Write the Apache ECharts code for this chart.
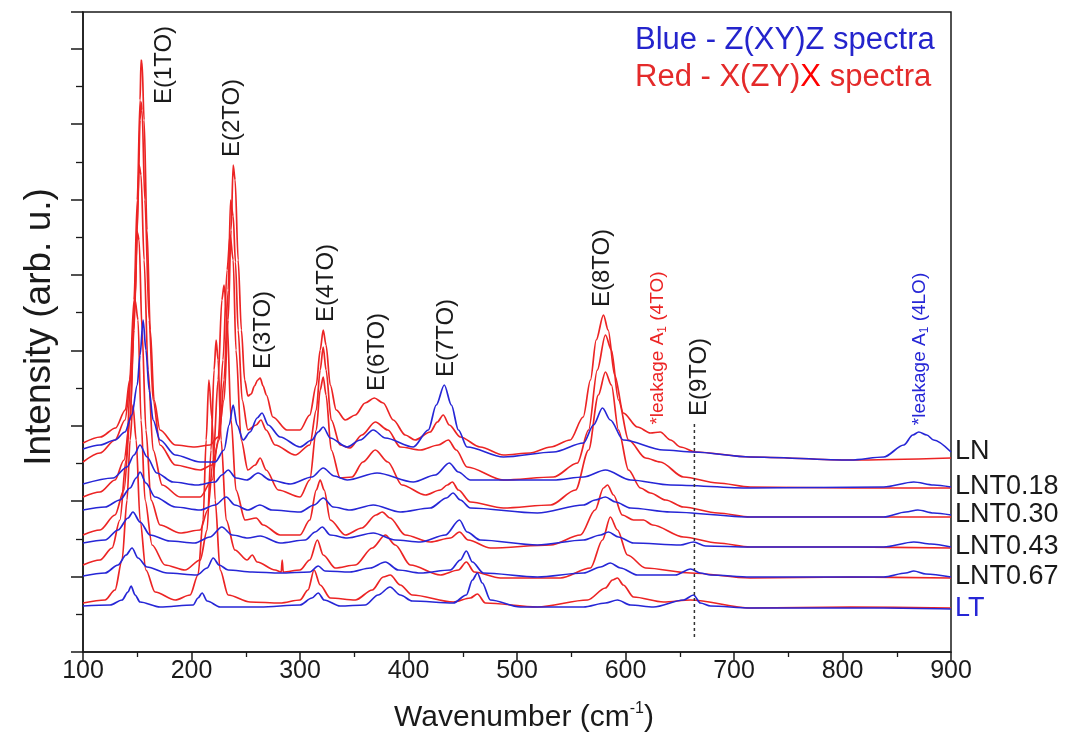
<!DOCTYPE html>
<html><head><meta charset="utf-8">
<script src="https://cdn.jsdelivr.net/npm/echarts@6/dist/echarts.min.js"></script>
<style>html,body{margin:0;padding:0;background:#fff}#c{width:1069px;height:749px}</style>
</head><body><div id="c"></div>
<script>
// ---- data: [wavenumber (cm-1), intensity (arb. u., stacked with offsets)] ----
const samples = ['LN','LNT0.18','LNT0.30','LNT0.43','LNT0.67','LT'];
const xTicks = [100,200,300,400,500,600,700,800,900];

const LN_red = [[100,209],[116,215],[130,224],[139,242],[143,272],[147,352],[150,452],[152.6,552],[153.5,592],[154.4,590],[156.3,532],[159,422],[162,322],[165.5,252],[171,222],[185,207],[203,205],[217,207],[224.5,215],[230,252],[233.8,332],[236.5,422],[238.4,487],[240.2,472],[243,392],[246,322],[249,272],[252,256],[255,258],[258,266],[261,272],[263.3,274],[266,266],[269,257],[275,235],[288,222],[300,222],[309,237],[315,267],[318.6,302],[321.4,322],[324,307],[327.9,267],[333.4,242],[341.7,232],[351,237],[360,249],[368.5,254],[376.7,249],[386,232],[397,217],[406,212],[420,220],[426.6,230],[432,237],[437.6,227],[447.8,215],[466,205],[487.5,197],[512,199],[531,205],[549,212],[561,235],[567.7,272],[573,312],[579.7,337],[584,322],[590,277],[598,239],[611,225],[623,219],[632,220],[641.5,212],[650.7,205],[664.6,200],[715,195],[807.6,192],[900,194]];
const LN_blue = [[100,203],[115.7,207],[129.5,212],[138.7,220],[145,237],[150,267],[152.6,297],[155.4,332],[158,302],[161,262],[164.6,232],[171,212],[185,197],[208,190],[221.8,190],[230,202],[234.7,227],[238.4,247],[242,227],[247.6,212],[254,220],[260.5,234],[265,239],[270.7,227],[281.7,215],[300,205],[311,212],[316.8,220],[321.4,225],[327.9,214],[343.5,205],[355.5,212],[367.5,222],[378.6,214],[404.4,205],[418.3,222],[425.6,247],[433,267],[439.5,247],[446,222],[454,205],[487.5,195],[533.6,200],[561.3,209],[570.5,227],[578.8,244],[586,232],[598,212],[635,202],[662.7,200],[715,195],[807.6,192],[838,195],[856.5,207],[864.8,217],[870.3,220],[877.7,217],[884,212],[900,200]];

const N018_red = [[100,190],[115.7,199],[129.5,212],[138.7,232],[144,272],[148,352],[150.7,452],[152.6,532],[153.5,550],[154.4,542],[157,452],[161,332],[164.6,252],[171,207],[185,187],[208,182],[219,187],[225.5,212],[230,272],[233.8,362],[236,452],[238.4,436],[240.5,390],[243,322],[246.7,252],[252,222],[259.6,227],[264,232],[268.8,222],[277,207],[295.6,197],[309,207],[315,242],[318.6,282],[321.4,305],[324,282],[328.8,232],[337,207],[346,204],[357,217],[369.4,230],[381,222],[392.4,205],[411,202],[427.5,207],[436.7,212],[444,202],[454,185],[487.5,172],[533.6,175],[555.7,189],[566,222],[574,282],[581.5,317],[587,302],[593.5,252],[602.8,212],[618.5,194],[632,190],[653.5,175],[685,169],[715,165],[807.6,164],[900,164]];
const N018_blue = [[100,168],[127.7,174],[140.6,185],[147,197],[152.6,207],[159,195],[168,179],[183,170],[205,167],[221.8,170],[228,177],[233.8,182],[241,174],[251,172],[261.4,179],[272.5,172],[291,168],[311,175],[321.4,184],[331.5,176],[343.5,172],[371,179],[404.4,170],[424.7,177],[437.6,189],[446,180],[457,172],[533.6,172],[561.3,175],[581.5,182],[604.6,172],[641.5,167],[715,164],[838,165],[865.7,170],[884,167],[900,165]];

const N030_red = [[100,155],[115.7,160],[129.5,172],[137.8,192],[143.4,232],[147,322],[150,422],[151.7,487],[153.5,477],[156.3,392],[160,282],[164.6,202],[173,167],[189.5,155],[208,155],[219,172],[224.5,212],[229,292],[232.8,382],[235.6,417],[238.4,392],[241,302],[245.8,212],[252,182],[258.7,187],[263.3,194],[268.8,182],[280,162],[300,155],[309,172],[315,222],[318.6,262],[321.4,275],[324,257],[328.8,202],[337,174],[348,175],[358,190],[369.4,202],[381,190],[394,167],[415.5,157],[429.3,162],[435.8,167],[440.4,170],[446,162],[457,150],[487.5,144],[531,147],[554,162],[566,202],[575,257],[581.5,280],[587,267],[593.5,222],[602.8,182],[613.8,164],[623,159],[637,152],[653.5,145],[685,139],[715,135],[807.6,135],[900,135]];
const N030_blue = [[100,142],[120.3,145],[134,152],[143.4,164],[149,174],[152.6,180],[158,169],[166.4,155],[185,145],[208,142],[221.8,147],[232,155],[240,147],[252,142],[263,147],[274,142],[300,140],[313,147],[321.4,154],[330.6,145],[346,142],[367.5,147],[392.4,140],[420,144],[435,154],[441,159],[447.8,152],[457,144],[518.8,139],[561.3,147],[572,152],[581.5,155],[590.8,150],[604.6,144],[641.5,140],[715,135],[838,135],[858.3,140],[869.4,142],[884,139],[900,137]];

const N043_red = [[100,117],[115.7,122],[129.5,137],[137.8,162],[143.4,232],[147,332],[150,420],[151.7,412],[154.4,322],[158,222],[162.7,152],[171,127],[189.5,119],[208,122],[215,142],[220,192],[224.5,272],[228,352],[230,367],[232.8,332],[236.5,232],[241,162],[249.4,132],[259.6,134],[266,127],[281.7,117],[300,117],[309,132],[315,162],[318.6,172],[322.3,162],[327.9,132],[341.7,117],[357,124],[370,137],[375.8,140],[383,134],[397,117],[420,110],[438.6,114],[447,120],[455,112],[475.5,104],[531,107],[558.5,117],[572,142],[579.7,164],[583.4,167],[589,157],[597,137],[607.4,132],[616.6,132],[625,127],[653.5,115],[685,109],[715,105],[807.6,105],[900,104]];
const N043_blue = [[100,109],[120.3,112],[132.3,122],[141.5,134],[146,140],[152.6,130],[161.8,117],[180,111],[203,109],[217,115],[228,125],[237.5,117],[252,114],[263.3,116],[281.7,109],[304.8,112],[314,120],[320.5,125],[327.9,117],[343.5,114],[367.5,119],[387.8,112],[411,110],[434,117],[447,132],[454,120],[466,112],[518.8,107],[561.3,112],[577,117],[584.3,120],[593.5,115],[607.4,109],[650.7,107],[662.7,110],[673.8,106],[715,105],[838,105],[865.7,110],[881.4,108],[900,105]];

const N067_red = [[100,87],[115.7,92],[126.8,104],[134,132],[139.7,192],[144.3,282],[148,352],[150.7,332],[153.5,232],[157.2,152],[163.7,107],[175.6,87],[194,82],[208,92],[214.4,122],[218,202],[220.8,282],[222.7,312],[224.5,292],[227.3,212],[232,132],[240,102],[251.3,92],[256,97],[260.5,90],[277,82],[282.7,80],[283.6,92],[284.5,80],[300,82],[309,92],[316,112],[321.4,97],[332.5,84],[351,87],[366.6,104],[378.6,117],[387.8,107],[401.7,87],[429.3,77],[446,82],[453.3,90],[460.6,80],[484.7,74],[540,74],[567.7,84],[578.8,112],[586,135],[592.6,122],[601.8,97],[618.5,84],[660,79],[715,74],[807.6,75],[900,74]];
const N067_blue = [[100,76],[120.3,79],[132.3,87],[139.7,97],[145.2,104],[150.7,94],[159,85],[177.5,79],[205,77],[214.4,84],[220,94],[225.5,87],[233.8,82],[256,80],[281.7,79],[309,80],[316.8,86],[323,81],[346,80],[364.8,84],[378.6,90],[390.6,82],[411,79],[438.6,82],[447.8,92],[453.3,101],[458.9,90],[469,79],[518.8,75],[561.3,79],[577,85],[586,89],[595.4,84],[611,77],[646,77],[660,83],[669,79],[678.4,77],[715,75],[838,75],[858.3,79],[865.7,81],[876.8,78],[900,75]];

const LT_red = [[100,49],[120.3,52],[129.5,62],[136,92],[140.6,152],[143.4,212],[146,247],[149,212],[152.6,132],[158,82],[166.4,60],[185,52],[198.7,57],[206,77],[210.7,132],[213.5,212],[216,272],[219,232],[221.8,152],[226.4,82],[233.8,57],[254,50],[281.7,49],[300,52],[307.4,62],[313,82],[318.6,67],[327.9,54],[351,52],[366.6,62],[376.7,75],[383.2,77],[392.4,67],[403.5,57],[441.3,50],[457,54],[463.5,58],[470.8,49],[518.8,45],[565,52],[581.5,64],[588,72],[592.6,74],[598,67],[607.4,55],[635,50],[660,52],[715,44],[807.6,45],[900,44]];
const LT_blue = [[100,46],[125,47],[136,52],[141.5,60],[144.3,66],[148,57],[152.6,50],[171,45],[201.5,47],[206,54],[209.8,59],[214.4,51],[226.4,45],[263.3,45],[300,47],[311,54],[316.8,59],[322.3,52],[337,46],[360,47],[372,57],[383,65],[392.4,57],[403.5,51],[441.3,49],[453.3,57],[458.9,72],[463.5,79],[468,69],[475.5,52],[503,45],[561.3,45],[581.5,49],[592.6,52],[604.6,47],[625.8,45],[653.5,52],[662.7,57],[669,49],[678.4,46],[715,44],[838,44],[900,43]];

const E9_guide = [[663.5,15],[663.5,229]];

const reds = [LN_red, N018_red, N030_red, N043_red, N067_red, LT_red];
const blues = [LN_blue, N018_blue, N030_blue, N043_blue, N067_blue, LT_blue];

// ---- styling ----
const RED = '#ec2424', BLUE = '#2626d6', INK = '#1a1a1a';
const SANS = "'Liberation Sans',Arial,Helvetica,sans-serif";

const series = [];
samples.forEach((name, i) => {
  series.push({type:'line', name: name + ' X(ZY)X', data: reds[i], showSymbol:false, symbol:'none',
    smooth:0.3, smoothMonotone:'x',
    lineStyle:{color:RED, width:1.7}, itemStyle:{color:RED}, z: 2});
  series.push({type:'line', name: name, data: blues[i], showSymbol:false, symbol:'none',
    smooth:0.3, smoothMonotone:'x',
    lineStyle:{color:BLUE, width:1.7}, itemStyle:{color:BLUE}, z: 3,
    endLabel:{show:true, formatter: name, distance:4, fontSize:27, fontFamily:SANS,
      color: name === 'LT' ? BLUE : INK}});
});
series.push({type:'line', name:'E(9TO) guide', data:E9_guide, showSymbol:false, symbol:'none',
  lineStyle:{color:'#333', width:1.5, type:[3,3]}, z: 4});

function vtext(x, y, text, size, color, rich) {
  return {type:'text', x, y, rotation: Math.PI/2, z: 100,
    style:{text, fontSize:size, fontFamily:SANS, fill:color, align:'center', verticalAlign:'middle', rich: rich || {}}};
}
const subRich = (c) => ({s:{fontSize:12, fill:c, fontFamily:SANS, padding:[10,0,0,0]}});

const graphic = [
  vtext(164, 65, 'E(1TO)', 24, INK),
  vtext(232, 118, 'E(2TO)', 24, INK),
  vtext(263, 330, 'E(3TO)', 24, INK),
  vtext(326, 283, 'E(4TO)', 24, INK),
  vtext(377, 352, 'E(6TO)', 24, INK),
  vtext(446, 338, 'E(7TO)', 24, INK),
  vtext(602, 268, 'E(8TO)', 24, INK),
  vtext(658, 348, '*leakage A{s|1} (4TO)', 19, RED, subRich(RED)),
  vtext(699, 377, 'E(9TO)', 24, INK),
  vtext(920, 349, '*leakage A{s|1} (4LO)', 19, BLUE, subRich(BLUE)),
  {type:'text', x:635, y:40, z:100, style:{text:'Blue - Z(XY)Z spectra', fontSize:31, fontFamily:SANS, fill:'#2424cc', align:'left', verticalAlign:'middle'}},
  {type:'text', x:635, y:77, z:100, style:{text:'{r|Red - X(ZY)}{x|X}{r| spectra}', align:'left', verticalAlign:'middle',
    rich:{r:{fontSize:31, fontFamily:SANS, fill:'#e42a2a'}, x:{fontSize:31, fontFamily:SANS, fill:'#ff0000'}}}},
  vtext(40, 327, 'Intensity (arb. u.)', 37, INK),
  {type:'text', x:524, y:718, z:100, style:{text:'{m|Wavenumber (cm}{s|-1}{m|)}', align:'center', verticalAlign:'middle',
    rich:{m:{fontSize:30, fontFamily:SANS, fill:INK, lineHeight:34}, s:{fontSize:16, fontFamily:SANS, fill:INK, verticalAlign:'top', lineHeight:34}}}}
];

const chart = echarts.init(document.getElementById('c'));
chart.setOption({
  animation:false,
  backgroundColor:'#fff',
  grid:{left:83, right:118, top:12, bottom:97, show:true, borderColor:INK, borderWidth:1.5, backgroundColor:'transparent'},
  xAxis:{type:'value', min:xTicks[0], max:xTicks[xTicks.length-1], interval:100,
    axisLine:{show:true, onZero:false, lineStyle:{color:INK, width:1.5}},
    axisTick:{show:true, length:8, lineStyle:{color:INK, width:1.5}},
    minorTick:{show:true, splitNumber:2, length:5, lineStyle:{color:INK, width:1.3}},
    splitLine:{show:false},
    axisLabel:{fontSize:25, fontFamily:SANS, color:INK, margin:7}},
  yAxis:{type:'value', min:0, max:640, interval:75.4,
    axisLine:{show:true, onZero:false, lineStyle:{color:INK, width:1.5}},
    axisTick:{show:true, length:12, lineStyle:{color:INK, width:1.5}},
    minorTick:{show:true, splitNumber:2, length:7, lineStyle:{color:INK, width:1.3}},
    splitLine:{show:false}, axisLabel:{show:false}},
  series, graphic
});
</script></body></html>
